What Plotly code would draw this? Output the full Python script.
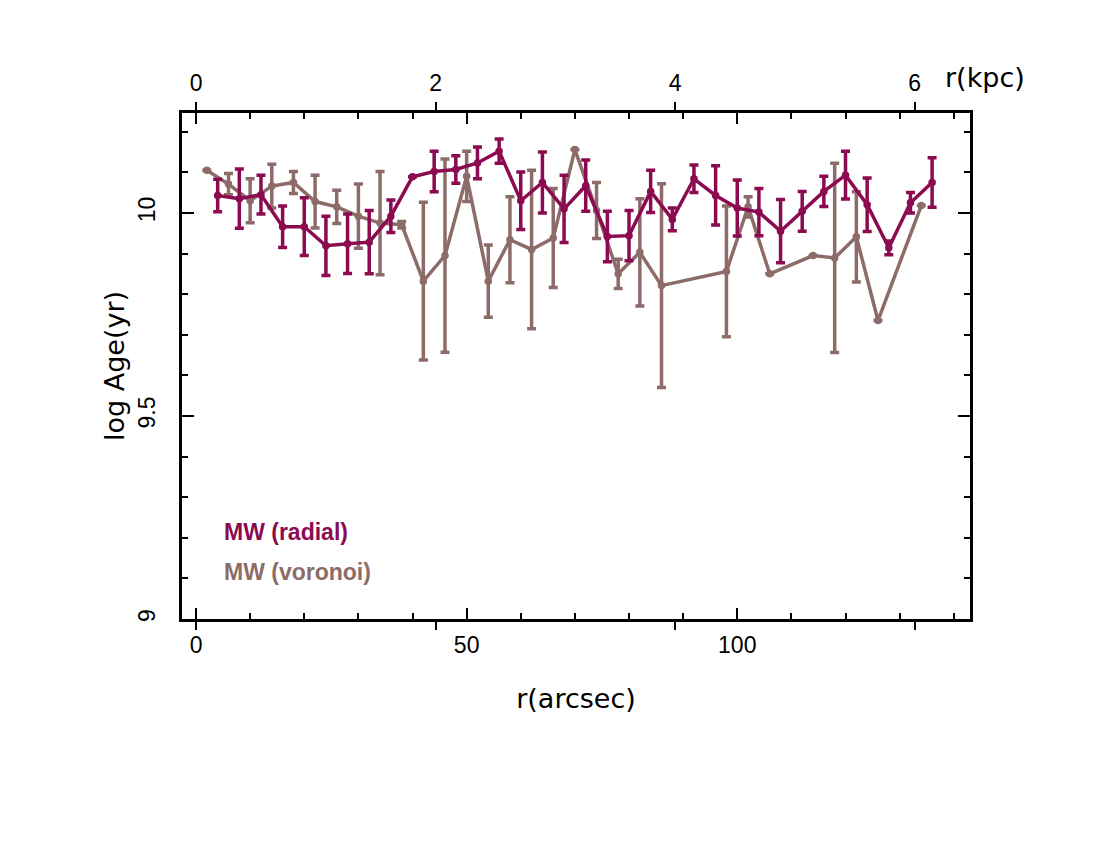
import plotly.graph_objects as go

# radial binning (arcsec, log age, error)
radial_r = [4, 8, 12, 16, 20, 24, 28, 32, 36, 40, 44, 48, 52, 56, 60, 64, 68,
            72, 76, 80, 84, 88, 92, 96, 100, 104, 108, 112, 116, 120, 124, 128, 132, 136]
radial_age = [10.043, 10.035, 10.045, 9.966, 9.966, 9.919, 9.924, 9.928, 9.992, 10.089,
              10.102, 10.107, 10.123, 10.152, 10.030, 10.075, 10.010, 10.067, 9.942, 9.944,
              10.053, 9.984, 10.084, 10.043, 10.012, 10.002, 9.955, 10.004, 10.053, 10.093,
              10.020, 9.914, 10.025, 10.075]
radial_err = [0.040, 0.073, 0.048, 0.051, 0.071, 0.073, 0.073, 0.078, 0.040, 0.0,
              0.050, 0.034, 0.039, 0.030, 0.071, 0.075, 0.083, 0.063, 0.062, 0.062,
              0.052, 0.028, 0.034, 0.073, 0.069, 0.058, 0.078, 0.049, 0.037, 0.059,
              0.066, 0.017, 0.025, 0.061]

# voronoi binning
vor_r = [2, 6, 10, 14, 18, 22, 26, 30, 34, 38, 42, 46, 50, 54, 58, 62, 66, 70, 74, 78,
         82, 86, 98, 102, 106, 114, 118, 122, 126, 134]
vor_age = [10.105, 10.071, 10.030, 10.066, 10.075, 10.028, 10.015, 9.992, 9.975, 9.971,
           9.832, 9.895, 10.090, 9.832, 9.934, 9.910, 9.938, 10.156, 10.006, 9.850,
           9.903, 9.821, 9.856, 10.015, 9.850, 9.895, 9.889, 9.941, 9.735, 10.018]
vor_err = [0.0, 0.026, 0.054, 0.054, 0.027, 0.065, 0.041, 0.079, 0.127, 0.008,
           0.194, 0.238, 0.062, 0.089, 0.106, 0.195, 0.122, 0.0, 0.069, 0.036,
           0.132, 0.251, 0.161, 0.025, 0.0, 0.0, 0.233, 0.111, 0.0, 0.0]

kpc_ticks = [0, 2, 4, 6]
ARCSEC_PER_KPC = 22.13
X_RANGE = [-2.59, 143.0]

RADIAL_COLOR = '#8b0a50'
VOR_COLOR = '#8c6b68'
FONT = 'Liberation Sans'
TITLE_FONT = 'DejaVu Sans'

fig = go.Figure()

fig.add_trace(go.Scatter(
    x=vor_r, y=vor_age,
    mode='lines+markers',
    line=dict(color=VOR_COLOR, width=3.5),
    marker=dict(color=VOR_COLOR, size=7.5),
    error_y=dict(type='data', array=vor_err, color=VOR_COLOR, thickness=3.5, width=4.5),
    name='MW (voronoi)'
))

fig.add_trace(go.Scatter(
    x=radial_r, y=radial_age,
    mode='lines+markers',
    line=dict(color=RADIAL_COLOR, width=3.5),
    marker=dict(color=RADIAL_COLOR, size=7.5),
    error_y=dict(type='data', array=radial_err, color=RADIAL_COLOR, thickness=3.5, width=4.5),
    name='MW (radial)'
))

# empty trace so the kpc axis on top is drawn
fig.add_trace(go.Scatter(x=[None], y=[None], xaxis='x2', showlegend=False, hoverinfo='skip'))

fig.update_layout(
    width=1100,
    height=850,
    # page body adds ~8px offset, margins compensate for it
    margin=dict(l=174, r=138, t=105, b=239),
    plot_bgcolor='white',
    paper_bgcolor='white',
    showlegend=False,
    font=dict(family=FONT, color='black', size=22),
    xaxis=dict(
        range=X_RANGE,
        tick0=0, dtick=50,
        ticks='inside', ticklen=11, tickwidth=2, tickcolor='black',
        minor=dict(dtick=10, tick0=0, ticks='inside', ticklen=6, tickwidth=2, tickcolor='black'),
        showline=True, linewidth=2.5, linecolor='black', mirror='ticks',
        showgrid=False, zeroline=False,
        ticklabelstandoff=4,
        tickfont=dict(size=23),
        title=dict(text='r(arcsec)', font=dict(size=27, family=TITLE_FONT), standoff=32),
    ),
    xaxis2=dict(
        overlaying='x', side='top',
        range=[X_RANGE[0] / ARCSEC_PER_KPC, X_RANGE[1] / ARCSEC_PER_KPC],
        tickvals=kpc_ticks,
        ticks='outside', ticklen=10, tickwidth=2, tickcolor='black',
        mirror='ticks', showline=False,
        showgrid=False, zeroline=False,
        ticklabelstandoff=2,
        tickfont=dict(size=23),
    ),
    yaxis=dict(
        range=[9, 10.246],
        tick0=9, dtick=0.5,
        ticks='inside', ticklen=12, tickwidth=2, tickcolor='black',
        minor=dict(dtick=0.1, tick0=9, ticks='inside', ticklen=6, tickwidth=2, tickcolor='black'),
        showline=True, linewidth=2.5, linecolor='black', mirror='ticks',
        showgrid=False, zeroline=False,
        tickangle=-90,
        ticklabelstandoff=15,
        tickfont=dict(size=23),
        title=dict(text='log Age(yr)', font=dict(size=27, family=TITLE_FONT), standoff=2),
    ),
    annotations=[
        dict(text='r(kpc)', xref='paper', yref='paper', x=1.019, y=1.07,
             xanchor='center', yanchor='middle', showarrow=False,
             font=dict(size=27, family=TITLE_FONT)),
        dict(text='<b>MW (radial)</b>', xref='paper', yref='paper', x=0.0504, y=0.1725,
             xanchor='left', yanchor='middle', showarrow=False,
             font=dict(size=23, color=RADIAL_COLOR)),
        dict(text='<b>MW (voronoi)</b>', xref='paper', yref='paper', x=0.0504, y=0.0935,
             xanchor='left', yanchor='middle', showarrow=False,
             font=dict(size=23, color=VOR_COLOR)),
    ],
)

fig.write_html("out.html")
